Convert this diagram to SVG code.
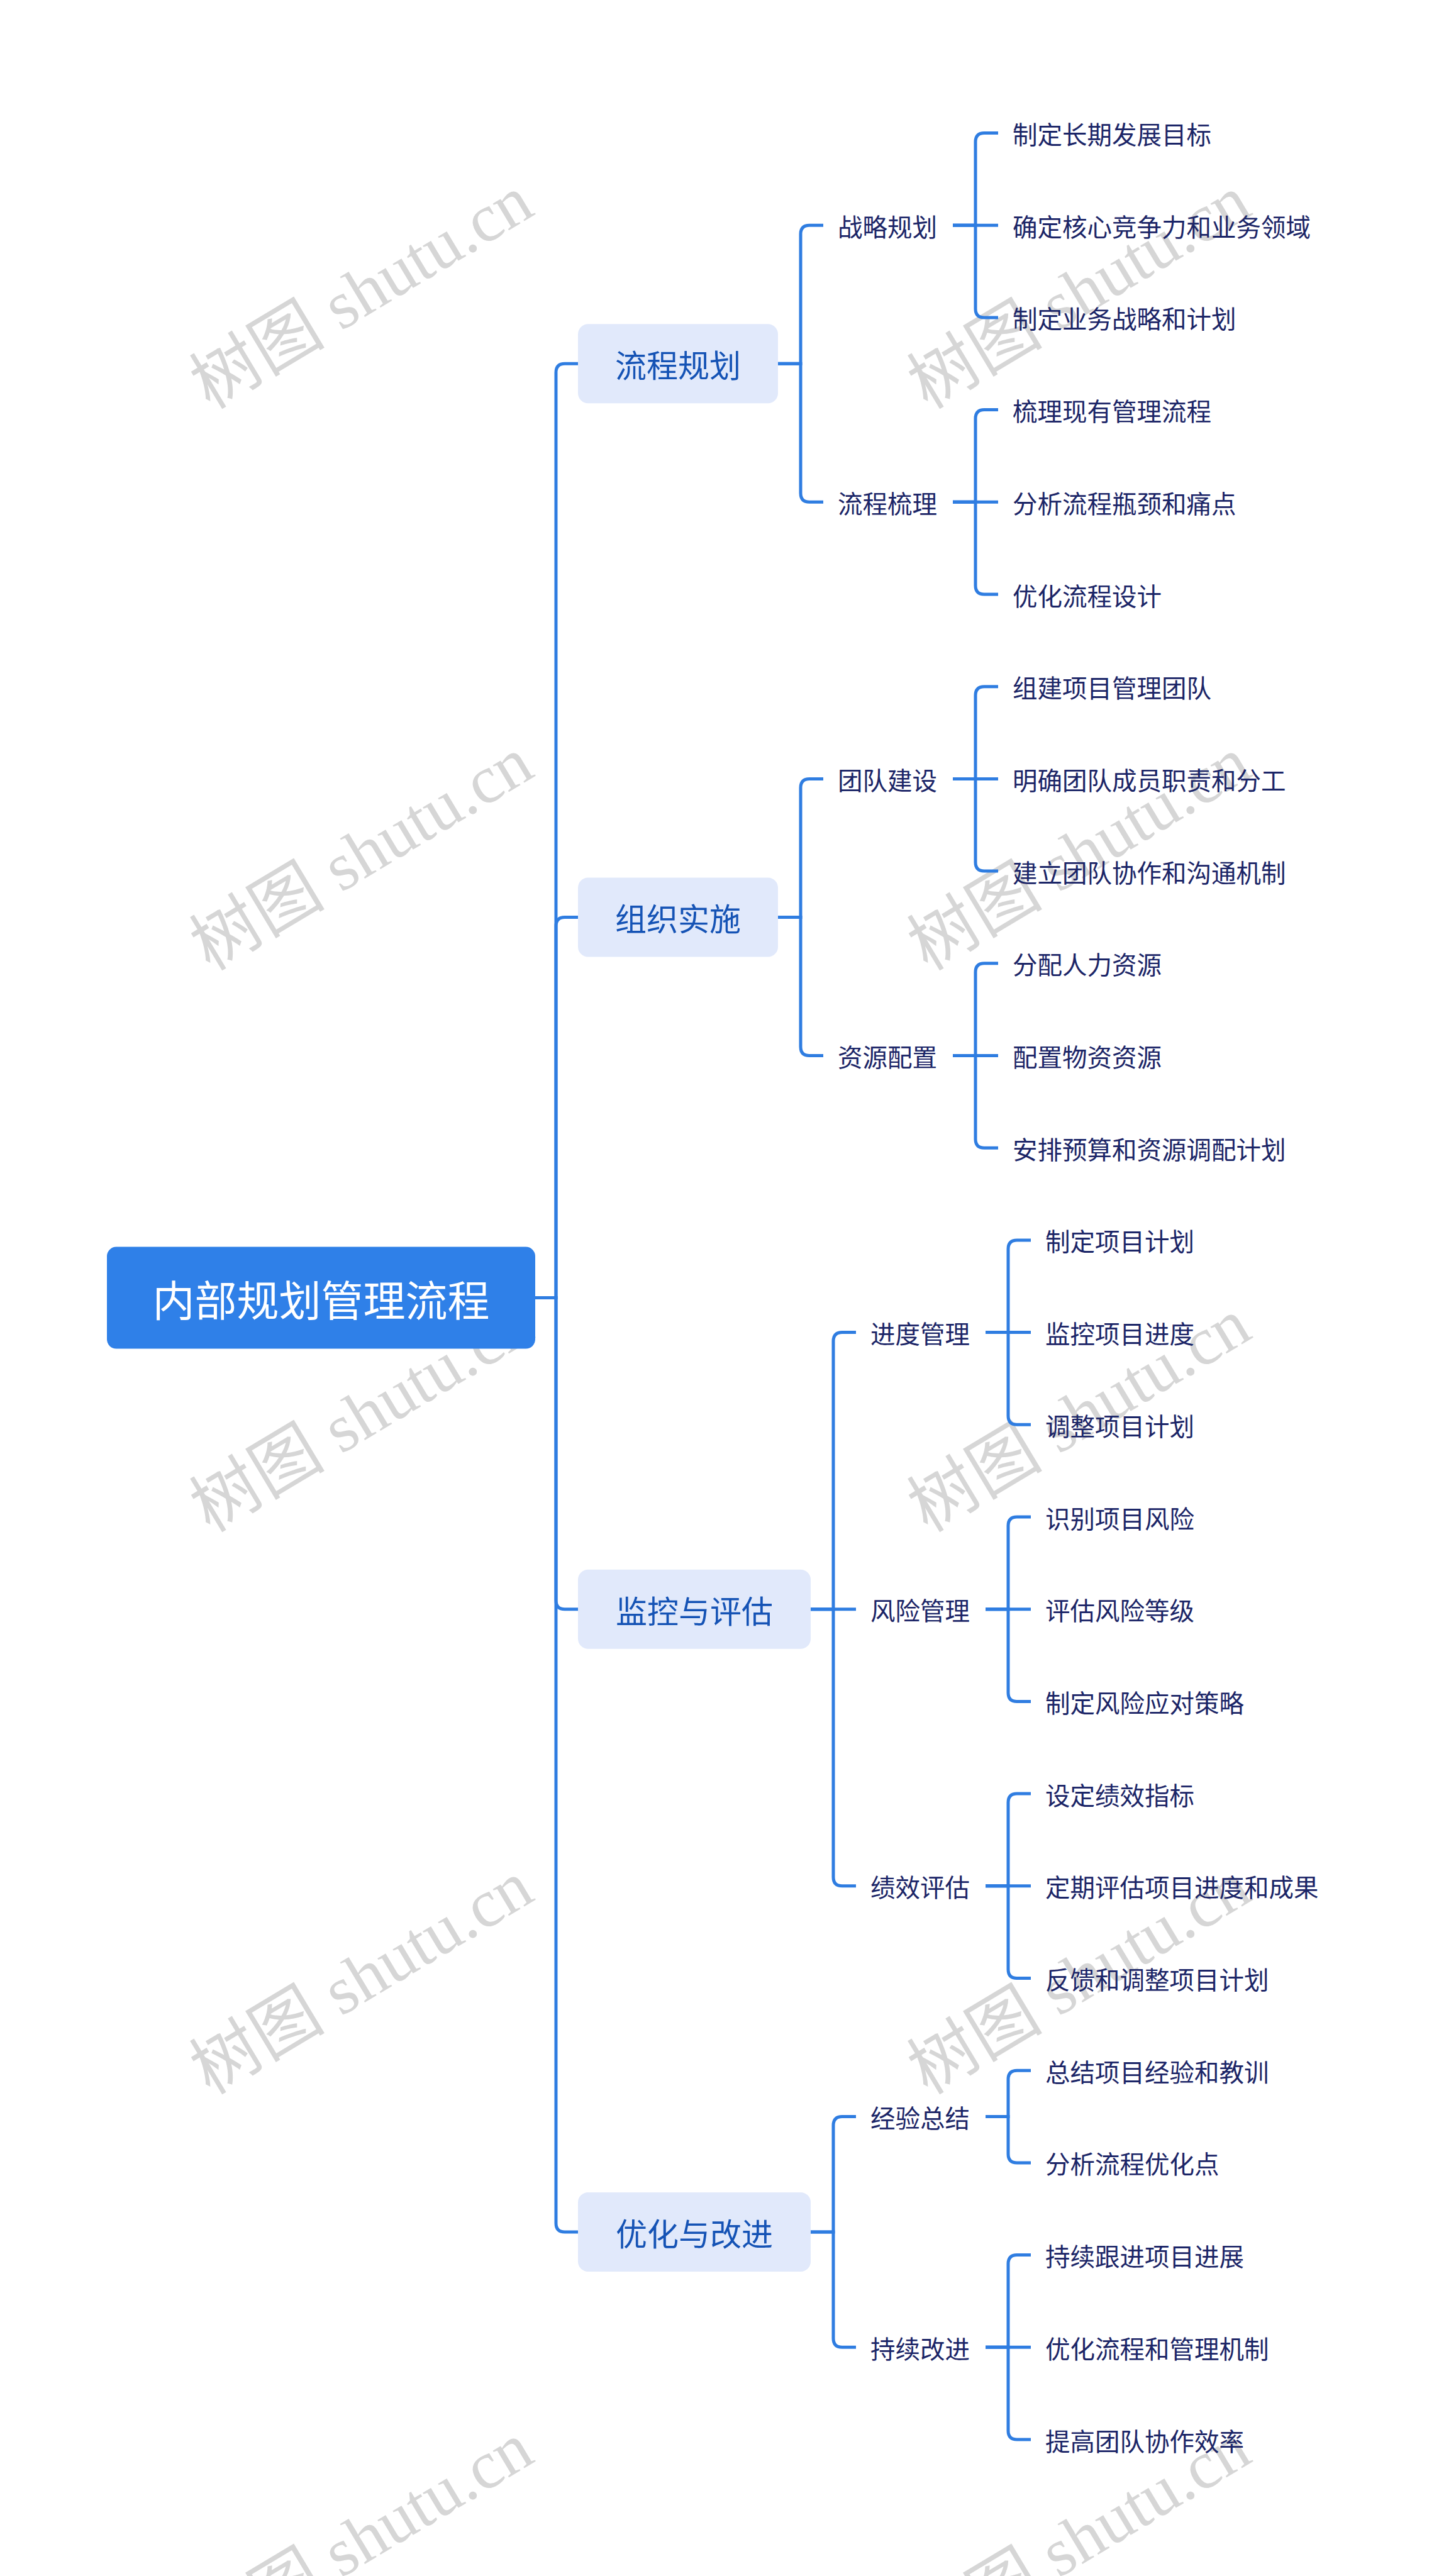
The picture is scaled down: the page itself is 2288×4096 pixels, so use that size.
<svg xmlns="http://www.w3.org/2000/svg" width="2288" height="4096" viewBox="0 0 2288 4096">
<style>
.wm{font-family:"Liberation Serif","Noto Sans CJK SC",serif;font-size:108px;fill:#d6d6d6;text-anchor:middle}
.ln{fill:none;stroke:#2f7de1;stroke-width:5}
.root rect{fill:#2f80e8}
.root text{font-family:"Noto Sans CJK SC","Noto Sans",sans-serif;font-size:67px;fill:#ffffff;text-anchor:middle;dominant-baseline:central}
.l1 rect{fill:#e1e9fb}
.l1 text{font-family:"Noto Sans CJK SC","Noto Sans",sans-serif;font-size:50px;fill:#1553b5;text-anchor:middle;dominant-baseline:central}
.t{font-family:"Noto Sans CJK SC","Noto Sans",sans-serif;font-size:39.5px;fill:#1b2567;dominant-baseline:central}
</style>
<rect width="2288" height="4096" fill="#ffffff"/>
<g id="watermarks">
<text class="wm" transform="translate(575,465) rotate(-31)" dy="36">树图 shutu.cn</text>
<text class="wm" transform="translate(1716,465) rotate(-31)" dy="36">树图 shutu.cn</text>
<text class="wm" transform="translate(575,1358) rotate(-31)" dy="36">树图 shutu.cn</text>
<text class="wm" transform="translate(1716,1358) rotate(-31)" dy="36">树图 shutu.cn</text>
<text class="wm" transform="translate(575,2251) rotate(-31)" dy="36">树图 shutu.cn</text>
<text class="wm" transform="translate(1716,2251) rotate(-31)" dy="36">树图 shutu.cn</text>
<text class="wm" transform="translate(575,3145) rotate(-31)" dy="36">树图 shutu.cn</text>
<text class="wm" transform="translate(1716,3145) rotate(-31)" dy="36">树图 shutu.cn</text>
<text class="wm" transform="translate(575,4038) rotate(-31)" dy="36">树图 shutu.cn</text>
<text class="wm" transform="translate(1716,4038) rotate(-31)" dy="36">树图 shutu.cn</text>
</g>
<g id="connectors" class="ln">
<path d="M851,2063.6 H884 V592.25 Q884,578.25 898,578.25 H919"/>
<path d="M851,2063.6 H884 V1472.45 Q884,1458.45 898,1458.45 H919"/>
<path d="M851,2063.6 H884 V2544.7 Q884,2558.7 898,2558.7 H919"/>
<path d="M851,2063.6 H884 V3534.9 Q884,3548.9 898,3548.9 H919"/>
<path d="M1237,578.25 H1273 V372.2 Q1273,358.2 1287,358.2 H1309"/>
<path d="M1237,578.25 H1273 V784.3 Q1273,798.3 1287,798.3 H1309"/>
<path d="M1237,1458.45 H1273 V1252.4 Q1273,1238.4 1287,1238.4 H1309"/>
<path d="M1237,1458.45 H1273 V1664.5 Q1273,1678.5 1287,1678.5 H1309"/>
<path d="M1289,2558.7 H1325 V2132.6 Q1325,2118.6 1339,2118.6 H1361"/>
<path d="M1289,2558.7 H1361"/>
<path d="M1289,2558.7 H1325 V2984.8 Q1325,2998.8 1339,2998.8 H1361"/>
<path d="M1289,3548.9 H1325 V3379.55 Q1325,3365.55 1339,3365.55 H1361"/>
<path d="M1289,3548.9 H1325 V3718.3 Q1325,3732.3 1339,3732.3 H1361"/>
<path d="M1515,358.2 H1551 V225.5 Q1551,211.5 1565,211.5 H1587"/>
<path d="M1515,358.2 H1587"/>
<path d="M1515,358.2 H1551 V490.9 Q1551,504.9 1565,504.9 H1587"/>
<path d="M1515,798.3 H1551 V665.6 Q1551,651.6 1565,651.6 H1587"/>
<path d="M1515,798.3 H1587"/>
<path d="M1515,798.3 H1551 V931 Q1551,945 1565,945 H1587"/>
<path d="M1515,1238.4 H1551 V1105.7 Q1551,1091.7 1565,1091.7 H1587"/>
<path d="M1515,1238.4 H1587"/>
<path d="M1515,1238.4 H1551 V1371.1 Q1551,1385.1 1565,1385.1 H1587"/>
<path d="M1515,1678.5 H1551 V1545.8 Q1551,1531.8 1565,1531.8 H1587"/>
<path d="M1515,1678.5 H1587"/>
<path d="M1515,1678.5 H1551 V1811.2 Q1551,1825.2 1565,1825.2 H1587"/>
<path d="M1567,2118.6 H1603 V1985.9 Q1603,1971.9 1617,1971.9 H1639"/>
<path d="M1567,2118.6 H1639"/>
<path d="M1567,2118.6 H1603 V2251.3 Q1603,2265.3 1617,2265.3 H1639"/>
<path d="M1567,2558.7 H1603 V2426 Q1603,2412 1617,2412 H1639"/>
<path d="M1567,2558.7 H1639"/>
<path d="M1567,2558.7 H1603 V2691.4 Q1603,2705.4 1617,2705.4 H1639"/>
<path d="M1567,2998.8 H1603 V2866.1 Q1603,2852.1 1617,2852.1 H1639"/>
<path d="M1567,2998.8 H1639"/>
<path d="M1567,2998.8 H1603 V3131.5 Q1603,3145.5 1617,3145.5 H1639"/>
<path d="M1567,3365.55 H1603 V3306.2 Q1603,3292.2 1617,3292.2 H1639"/>
<path d="M1567,3365.55 H1603 V3424.9 Q1603,3438.9 1617,3438.9 H1639"/>
<path d="M1567,3732.3 H1603 V3599.6 Q1603,3585.6 1617,3585.6 H1639"/>
<path d="M1567,3732.3 H1639"/>
<path d="M1567,3732.3 H1603 V3865 Q1603,3879 1617,3879 H1639"/>
</g>
<g id="root" class="root"><rect x="170" y="1982.6" width="681" height="162" rx="15"/><text x="510.5" y="2063.6">内部规划管理流程</text></g>
<g id="n1" class="l1"><rect x="919" y="515.25" width="318" height="126" rx="16"/><text x="1078" y="578.25">流程规划</text></g>
<g id="n2" class="l1"><rect x="919" y="1395.45" width="318" height="126" rx="16"/><text x="1078" y="1458.45">组织实施</text></g>
<g id="n3" class="l1"><rect x="919" y="2495.7" width="370" height="126" rx="16"/><text x="1104" y="2558.7">监控与评估</text></g>
<g id="n4" class="l1"><rect x="919" y="3485.9" width="370" height="126" rx="16"/><text x="1104" y="3548.9">优化与改进</text></g>
<g id="n1a"><text class="t" x="1332" y="358.2">战略规划</text></g>
<g id="n1b"><text class="t" x="1332" y="798.3">流程梳理</text></g>
<g id="n2a"><text class="t" x="1332" y="1238.4">团队建设</text></g>
<g id="n2b"><text class="t" x="1332" y="1678.5">资源配置</text></g>
<g id="n3a"><text class="t" x="1384" y="2118.6">进度管理</text></g>
<g id="n3b"><text class="t" x="1384" y="2558.7">风险管理</text></g>
<g id="n3c"><text class="t" x="1384" y="2998.8">绩效评估</text></g>
<g id="n4a"><text class="t" x="1384" y="3365.55">经验总结</text></g>
<g id="n4b"><text class="t" x="1384" y="3732.3">持续改进</text></g>
<g id="leaf0"><text class="t" x="1610" y="211.5">制定长期发展目标</text></g>
<g id="leaf1"><text class="t" x="1610" y="358.2">确定核心竞争力和业务领域</text></g>
<g id="leaf2"><text class="t" x="1610" y="504.9">制定业务战略和计划</text></g>
<g id="leaf3"><text class="t" x="1610" y="651.6">梳理现有管理流程</text></g>
<g id="leaf4"><text class="t" x="1610" y="798.3">分析流程瓶颈和痛点</text></g>
<g id="leaf5"><text class="t" x="1610" y="945">优化流程设计</text></g>
<g id="leaf6"><text class="t" x="1610" y="1091.7">组建项目管理团队</text></g>
<g id="leaf7"><text class="t" x="1610" y="1238.4">明确团队成员职责和分工</text></g>
<g id="leaf8"><text class="t" x="1610" y="1385.1">建立团队协作和沟通机制</text></g>
<g id="leaf9"><text class="t" x="1610" y="1531.8">分配人力资源</text></g>
<g id="leaf10"><text class="t" x="1610" y="1678.5">配置物资资源</text></g>
<g id="leaf11"><text class="t" x="1610" y="1825.2">安排预算和资源调配计划</text></g>
<g id="leaf12"><text class="t" x="1662" y="1971.9">制定项目计划</text></g>
<g id="leaf13"><text class="t" x="1662" y="2118.6">监控项目进度</text></g>
<g id="leaf14"><text class="t" x="1662" y="2265.3">调整项目计划</text></g>
<g id="leaf15"><text class="t" x="1662" y="2412">识别项目风险</text></g>
<g id="leaf16"><text class="t" x="1662" y="2558.7">评估风险等级</text></g>
<g id="leaf17"><text class="t" x="1662" y="2705.4">制定风险应对策略</text></g>
<g id="leaf18"><text class="t" x="1662" y="2852.1">设定绩效指标</text></g>
<g id="leaf19"><text class="t" x="1662" y="2998.8">定期评估项目进度和成果</text></g>
<g id="leaf20"><text class="t" x="1662" y="3145.5">反馈和调整项目计划</text></g>
<g id="leaf21"><text class="t" x="1662" y="3292.2">总结项目经验和教训</text></g>
<g id="leaf22"><text class="t" x="1662" y="3438.9">分析流程优化点</text></g>
<g id="leaf23"><text class="t" x="1662" y="3585.6">持续跟进项目进展</text></g>
<g id="leaf24"><text class="t" x="1662" y="3732.3">优化流程和管理机制</text></g>
<g id="leaf25"><text class="t" x="1662" y="3879">提高团队协作效率</text></g>
</svg>
